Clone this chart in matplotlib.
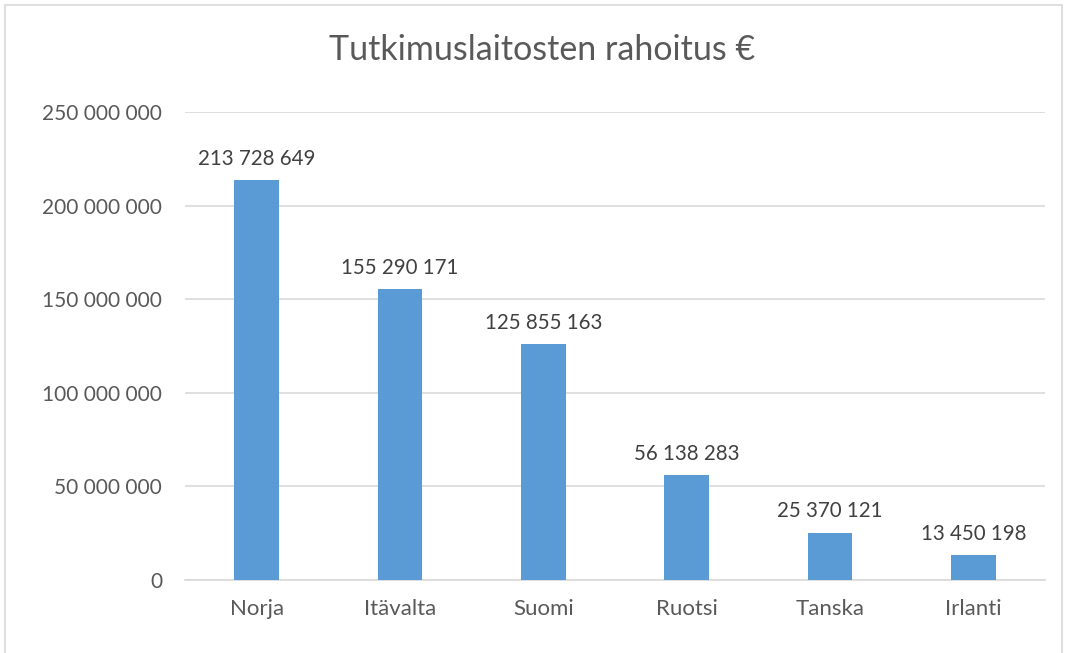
import matplotlib
matplotlib.use("Agg")
import matplotlib.pyplot as plt
from matplotlib.patches import Rectangle

categories = ["Norja", "Itävalta", "Suomi", "Ruotsi", "Tanska", "Irlanti"]
values = [213728649, 155290171, 125855163, 56138283, 25370121, 13450198]
yticks = [0, 50000000, 100000000, 150000000, 200000000, 250000000]

def fmt(v):
    return f"{v:,}".replace(",", " ")

plt.rcParams['font.family'] = ['Lato', 'DejaVu Sans']
txt = '#595959'

fig = plt.figure(figsize=(10.65, 6.53), dpi=100)
fig.patches.append(Rectangle((5/1065, -0.01), (1062-5)/1065, 1 - 5/653 + 0.01,
                             transform=fig.transFigure, fill=False,
                             edgecolor='#D9D9D9', linewidth=1.2))
ax = fig.add_axes([185/1065, 73/653, 860/1065, 468/653])
x = list(range(len(categories)))
ax.bar(x, values, width=0.31, color='#5B9BD5', zorder=3)
for xi, v in zip(x, values):
    ax.text(xi, v + 6000000, fmt(v), ha='center', va='bottom', fontsize=14.8, color='#404040')

ax.set_xlim(-0.5, len(categories) - 0.5)
ax.set_ylim(0, 250000000)
ax.set_yticks(yticks)
ax.set_yticklabels([fmt(t) for t in yticks], fontsize=15, color=txt)
ax.set_xticks(x)
ax.set_xticklabels(categories, fontsize=16, color=txt)
ax.tick_params(axis='x', length=0, pad=14)
ax.tick_params(axis='y', length=0, pad=16.5)
ax.grid(axis='y', color='#D9D9D9', linewidth=1.2, zorder=0)
for s in ['top', 'right', 'left']:
    ax.spines[s].set_visible(False)
ax.spines['bottom'].set_color('#D9D9D9')
ax.spines['bottom'].set_linewidth(1.2)

fig.text(542/1065, 1 - 50/653, "Tutkimuslaitosten rahoitus €", ha='center', va='center',
         fontsize=24.5, color=txt)

fig.savefig("out.png", dpi=100)
